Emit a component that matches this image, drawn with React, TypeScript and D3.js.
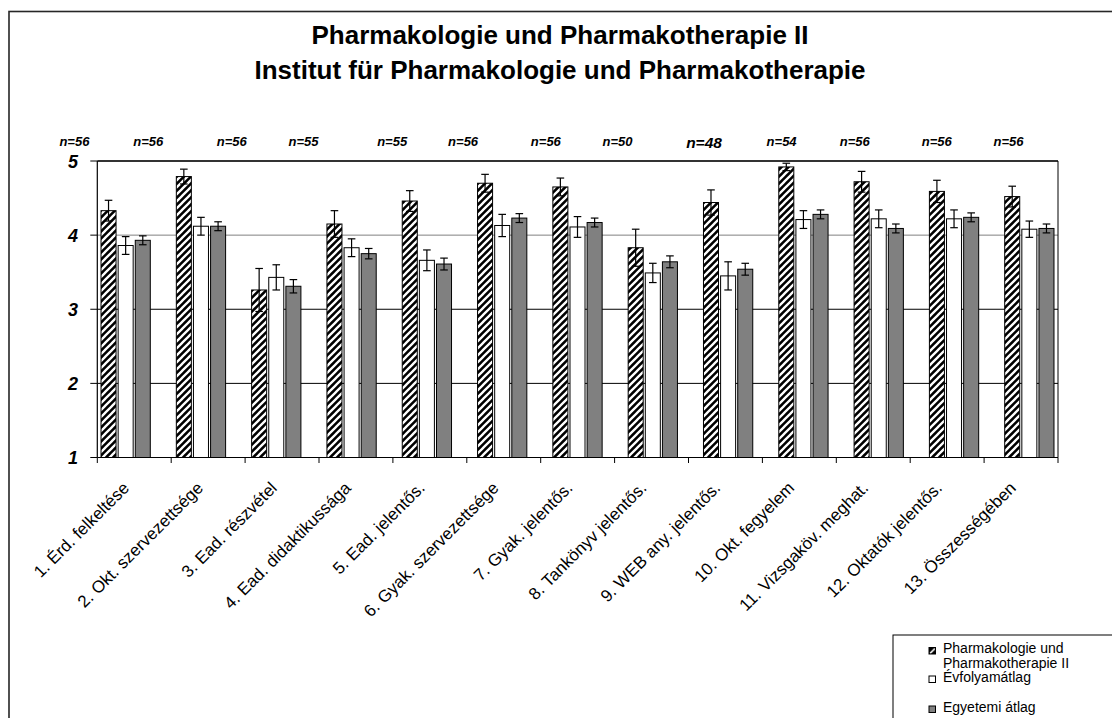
import React from "react";
import * as d3 from "d3";

const categories = [
  "1. Érd. felkeltése",
  "2. Okt. szervezettsége",
  "3. Ead. részvétel",
  "4. Ead. didaktikussága",
  "5. Ead. jelentős.",
  "6. Gyak. szervezettsége",
  "7. Gyak. jelentős.",
  "8. Tankönyv jelentős.",
  "9. WEB any. jelentős.",
  "10. Okt. fegyelem",
  "11. Vizsgaköv. meghat.",
  "12. Oktatók jelentős.",
  "13. Összességében",
];

const seriesNames = ["Pharmakologie und Pharmakotherapie II", "Évfolyamátlag", "Egyetemi átlag"];

const pharmaValues = [4.33, 4.79, 3.26, 4.15, 4.46, 4.7, 4.65, 3.83, 4.44, 4.92, 4.72, 4.59, 4.52];
const pharmaErrors = [0.14, 0.1, 0.29, 0.18, 0.14, 0.12, 0.12, 0.25, 0.17, 0.05, 0.14, 0.15, 0.14];
const evfolyamValues = [3.86, 4.12, 3.43, 3.83, 3.66, 4.13, 4.11, 3.49, 3.45, 4.21, 4.22, 4.22, 4.08];
const evfolyamErrors = [0.12, 0.12, 0.17, 0.12, 0.14, 0.15, 0.14, 0.13, 0.19, 0.12, 0.12, 0.12, 0.11];
const egyetemiValues = [3.93, 4.12, 3.31, 3.75, 3.61, 4.23, 4.17, 3.64, 3.54, 4.28, 4.09, 4.24, 4.09];
const egyetemiErrors = [0.06, 0.06, 0.09, 0.07, 0.08, 0.06, 0.06, 0.08, 0.08, 0.06, 0.06, 0.06, 0.06];

const nLabels = ["n=56", "n=56", "n=56", "n=55", "n=55", "n=56", "n=56", "n=50", "n=48", "n=54", "n=56", "n=56", "n=56"];
// annotation positions, in category-index units along the axis
const nLabelAt = [-0.81, 0.19, 1.32, 2.29, 3.49, 4.45, 5.57, 6.54, 7.71, 8.76, 9.75, 10.86, 11.83];

const yTicks = [1, 2, 3, 4, 5];

const W = 1112;
const H = 718;
const FONT = "'Liberation Sans', Arial, Helvetica, sans-serif";

export default function App() {
  const plotL = 97.3;
  const plotR = 1058;
  const plotT = 161;
  const plotB = 457.5;

  const y = d3.scaleLinear().domain([1, 5]).range([plotB, plotT]);
  const xAxis = d3.scaleBand<number>().domain(d3.range(categories.length)).range([plotL, plotR]);
  const xIdx = d3.scaleLinear().domain([0, categories.length]).range([plotL, plotR]);
  const xBars = d3.scaleBand<number>().domain(d3.range(categories.length)).range([88, 1067]);
  const xSeries = d3
    .scaleBand<number>()
    .domain([0, 1, 2])
    .range([0, xBars.bandwidth()])
    .paddingInner(0.123)
    .paddingOuter(0.76);

  const series = [
    { values: pharmaValues, errors: pharmaErrors, fill: "url(#hatch)" },
    { values: evfolyamValues, errors: evfolyamErrors, fill: "#ffffff" },
    { values: egyetemiValues, errors: egyetemiErrors, fill: "#808080" },
  ];

  const bw = xSeries.bandwidth();
  const cap = 3.8;

  return (
    <svg
      width={W}
      height={H}
      style={{ position: "absolute", left: 0, top: 0, background: "#fff" }}
      fontFamily={FONT}
    >
      <defs>
        <pattern id="hatch" patternUnits="userSpaceOnUse" width={7} height={7}>
          <rect width={7} height={7} fill="#000" />
          <path d="M-1,8 L8,-1 M-4.5,4.5 L4.5,-4.5 M2.5,11.5 L11.5,2.5" stroke="#fff" strokeWidth={2.3} />
        </pattern>
        <pattern id="hatchLegend" patternUnits="objectBoundingBox" width={1} height={1}>
          <rect width={7} height={7} fill="#000" />
          <path d="M1,6 L6,1" stroke="#fff" strokeWidth={1.6} />
        </pattern>
      </defs>

      {/* outer chart border */}
      <rect x={9} y={11.5} width={1300} height={900} fill="none" stroke="#262626" strokeWidth={1.6} />

      {/* title */}
      <text x={560} y={43.5} textAnchor="middle" fontSize={26} fontWeight="bold" fill="#000">
        Pharmakologie und Pharmakotherapie II
      </text>
      <text x={560} y={78.5} textAnchor="middle" fontSize={26} fontWeight="bold" fill="#000">
        Institut für Pharmakologie und Pharmakotherapie
      </text>

      {/* n labels */}
      {nLabels.map((t, i) => (
        <text
          key={"n" + i}
          x={xIdx(nLabelAt[i] + 0.5)}
          y={t === "n=48" ? 147.5 : 146}
          textAnchor="middle"
          fontSize={t === "n=48" ? 15.5 : 13}
          fontWeight="bold"
          fontStyle="italic"
          fill="#000"
        >
          {t}
        </text>
      ))}

      {/* gridlines */}
      {yTicks
        .filter((v) => v > 1 && v < 5)
        .map((v) => (
          <line
            key={"g" + v}
            x1={plotL}
            x2={plotR}
            y1={y(v)}
            y2={y(v)}
            stroke={v === 4 ? "#808080" : "#000"}
            strokeWidth={1}
          />
        ))}
      <line x1={plotL} x2={plotR} y1={y(5)} y2={y(5)} stroke="#333" strokeWidth={1.8} />
      <line x1={plotR} x2={plotR} y1={plotT} y2={plotB} stroke="#000" strokeWidth={1} />

      {/* bars */}
      {series.map((s, si) =>
        s.values.map((v, i) => {
          const x = xBars(i)! + xSeries(si)!;
          return (
            <rect
              key={`b${si}-${i}`}
              x={x}
              y={y(v)}
              width={bw}
              height={y(1) - y(v)}
              fill={s.fill}
              stroke="#000"
              strokeWidth={1}
            />
          );
        })
      )}

      {/* error bars */}
      {series.map((s, si) =>
        s.values.map((v, i) => {
          const cx = xBars(i)! + xSeries(si)! + bw / 2;
          const lo = y(v - s.errors[i]);
          const hi = y(v + s.errors[i]);
          return (
            <g key={`e${si}-${i}`} stroke="#000" strokeWidth={1.2}>
              <line x1={cx} x2={cx} y1={lo} y2={hi} />
              <line x1={cx - cap} x2={cx + cap} y1={hi} y2={hi} />
              <line x1={cx - cap} x2={cx + cap} y1={lo} y2={lo} />
            </g>
          );
        })
      )}

      {/* y axis */}
      <line x1={plotL} x2={plotL} y1={plotT} y2={plotB} stroke="#000" strokeWidth={1.2} />
      {yTicks.map((v) => (
        <g key={"yt" + v}>
          <line x1={plotL - 7} x2={plotL} y1={y(v)} y2={y(v)} stroke="#000" strokeWidth={1} />
          <text
            x={78}
            y={y(v) + 6.5}
            textAnchor="end"
            fontSize={18}
            fontWeight="bold"
            fontStyle="italic"
            fill="#000"
          >
            {v}
          </text>
        </g>
      ))}

      {/* x axis */}
      <line x1={plotL} x2={plotR} y1={plotB} y2={plotB} stroke="#000" strokeWidth={1.2} />
      {d3.range(categories.length + 1).map((i) => (
        <line key={"xt" + i} x1={xIdx(i)} x2={xIdx(i)} y1={plotB} y2={plotB + 5.5} stroke="#000" strokeWidth={1} />
      ))}
      {categories.map((c, i) => {
        const ax = xAxis(i)! + xAxis.bandwidth() / 2 - 4;
        const ay = 489;
        return (
          <text
            key={"xl" + i}
            x={ax}
            y={ay}
            transform={`rotate(-45, ${ax}, ${ay})`}
            textAnchor="end"
            fontSize={17}
            fill="#000"
          >
            {c}
          </text>
        );
      })}

      {/* legend */}
      <rect x={893} y={635} width={400} height={200} fill="#fff" stroke="#000" strokeWidth={1} />
      <g fontSize={14} fill="#000">
        <rect x={929} y={647.5} width={6.5} height={6.5} fill="url(#hatchLegend)" stroke="#000" strokeWidth={1} />
        <text x={943} y={653}>Pharmakologie und</text>
        <text x={943} y={667.5}>Pharmakotherapie II</text>
        <rect x={929} y={676} width={6.5} height={6.5} fill="#fff" stroke="#000" strokeWidth={1} />
        <text x={943} y={682}>{seriesNames[1]}</text>
        <rect x={929} y={706} width={6.5} height={6.5} fill="#808080" stroke="#000" strokeWidth={1} />
        <text x={943} y={712}>{seriesNames[2]}</text>
      </g>
    </svg>
  );
}
